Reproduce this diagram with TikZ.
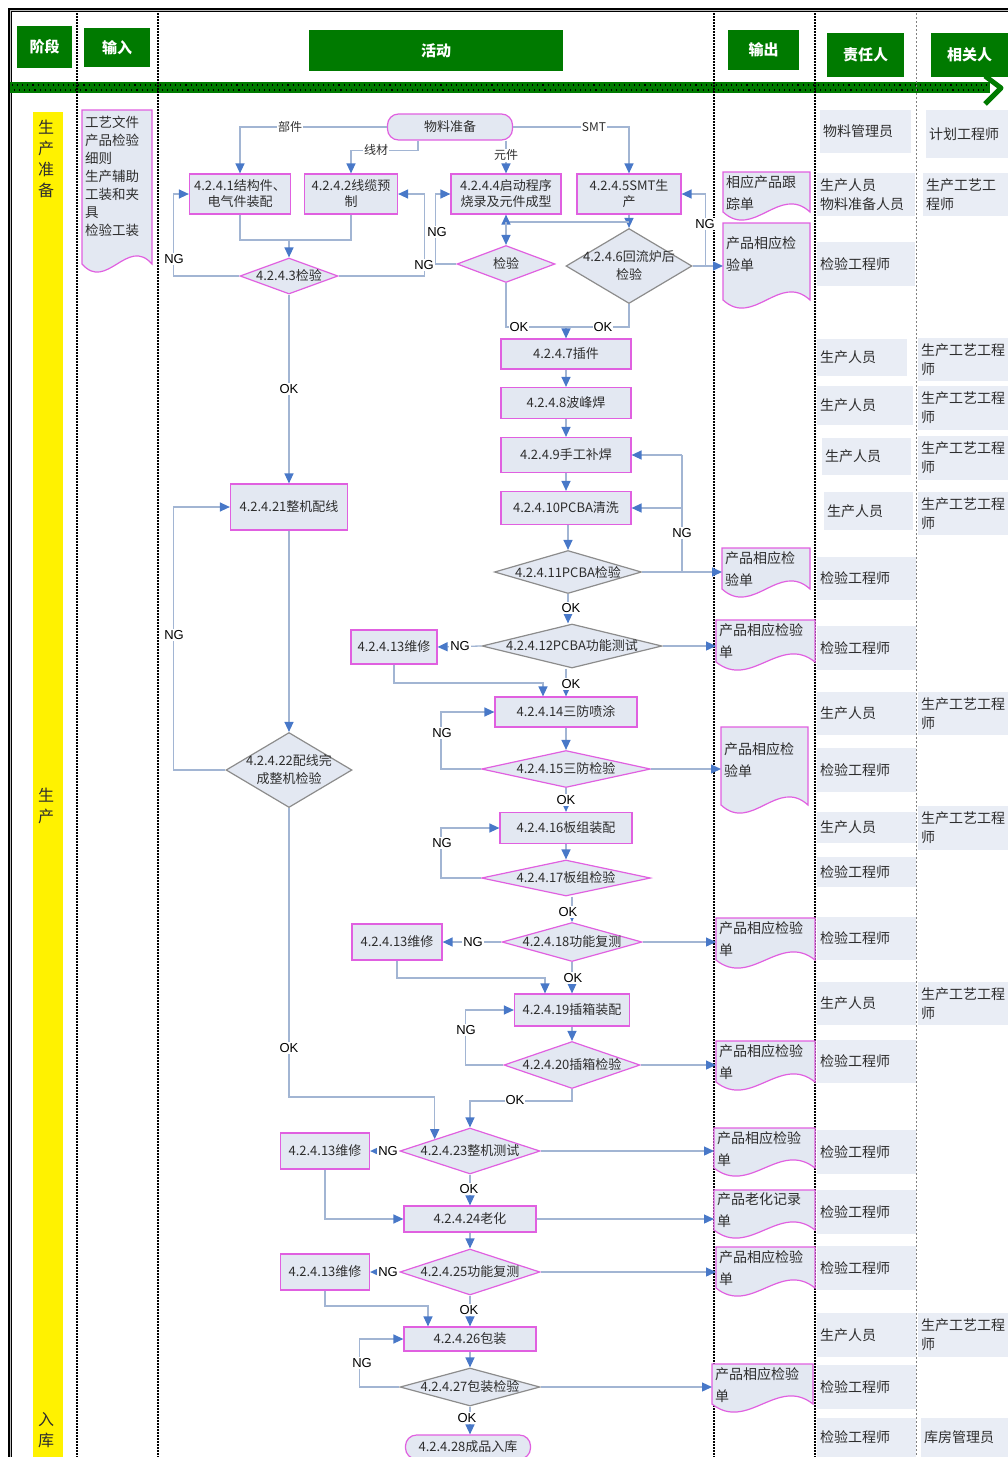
\documentclass[tikz,border=0pt]{standalone}
\usepackage{fontspec}
\setmainfont{Noto Sans CJK SC}
\newfontfamily\labfont{Liberation Sans}
\usetikzlibrary{shapes.geometric,arrows.meta,calc}
\definecolor{nfill}{HTML}{E3E8F2}
\definecolor{rfill}{HTML}{E9EDF5}
\definecolor{mag}{HTML}{E060E0}
\definecolor{gborder}{HTML}{8C8C8C}
\definecolor{lncol}{HTML}{A2B5D3}
\definecolor{tipcol}{HTML}{4878C8}
\definecolor{hgreen}{HTML}{007A00}
\definecolor{txt}{HTML}{2E2E2E}
\tikzset{
 ln/.style={draw=lncol, line width=1.3pt},
 arr/.style={ln, -{Triangle[length=10pt,width=9pt,color=tipcol]}},
 proc/.style={rectangle, draw=mag, fill=nfill, line width=1.2pt, align=center, inner sep=1pt, font=\fontsize{13pt}{16pt}\selectfont, text=txt},
 term/.style={proc, rounded corners=11pt},
 decm/.style={diamond, draw=mag, fill=nfill, line width=1.2pt, inner sep=0pt},
 decg/.style={diamond, draw=gborder, fill=nfill, line width=1.2pt, inner sep=0pt},
 dtext/.style={align=center, inner sep=0pt, font=\fontsize{13pt}{18pt}\selectfont, text=txt},
 lbl/.style={fill=white, inner sep=1pt, font=\labfont\fontsize{13pt}{15pt}\selectfont, text=black},
 blbl/.style={fill=white, inner sep=1pt, font=\fontsize{12pt}{14pt}\selectfont, text=txt},
 divider/.style={line width=2.2pt, dash pattern=on 2pt off 1pt, black},
 hdr/.style={fill=hgreen, text=white, font=\bfseries\fontsize{15pt}{18pt}\selectfont, inner sep=0pt},
 dtxt/.style={anchor=north west, align=left, inner sep=3pt, font=\fontsize{14pt}{22pt}\selectfont, text=txt},
 intxt/.style={font=\fontsize{13.5pt}{18pt}\selectfont},
 rtxt/.style={align=left, inner sep=3pt, font=\fontsize{14pt}{19pt}\selectfont, text=txt},
 ytxt/.style={align=center, inner sep=0pt, font=\fontsize{16pt}{21pt}\selectfont, text=txt},
}
% document shape: [style] name x1 y1 x2 y2 pad text
\newcommand\docbox[8][]{%
 \path[draw=mag, fill=nfill, line width=1.2pt] (#3,#4) -- (#5,#4) -- (#5,{#6-8})
   .. controls ({#5-0.35*(#5-#3)},{#6-36}) and ({#3+0.35*(#5-#3)},{#6+20}) .. (#3,{#6-8}) -- cycle;
 \node[dtxt,#1] (#2) at (#3,{#4+#7}) {#8};
}
% responsible box: name x1 y1 x2 y2 text
\newcommand\respbox[6]{%
 \fill[rfill] (#2,#3) rectangle (#4,#5);
 \node[rtxt, anchor=west] (#1) at (#2,{(#3+#5)/2}) {#6};
}
\begin{document}
\begin{tikzpicture}[x=1pt,y=-1pt]
\useasboundingbox (0,0) rectangle (1008,1457);
% frame
\draw[line width=1.2pt, double=gray!50, double distance=0.8pt] (10,1457) -- (10,10) -- (1008,10);
% green band
\fill[hgreen] (10,82) rectangle (990,93);
\draw[black, line width=1.1pt, dash pattern=on 1.1pt off 4pt] (12,85) -- (988,85);
\draw[black, line width=1.1pt, dash pattern=on 1.1pt off 4pt] (14,90) -- (988,90);
\draw[hgreen, line width=5pt, line join=round] (985,76) -- (1001,88) -- (985,104);
% dividers
\draw[divider] (77,13) -- (77,1457);
\draw[divider] (158,13) -- (158,1457);
\draw[divider] (714,13) -- (714,1457);
\draw[divider] (815,13) -- (815,1457);
\draw[gray, line width=0.8pt, dash pattern=on 2pt off 2pt] (916,13) -- (916,1457);
% headers
\node[hdr, minimum width=55pt, minimum height=42pt] (h1) at (44.5,47) {阶段};
\node[hdr, minimum width=66pt, minimum height=39pt] (h2) at (117,47.5) {输入};
\node[hdr, minimum width=254pt, minimum height=41pt] (h3) at (436,50.5) {活动};
\node[hdr, minimum width=71pt, minimum height=40pt] (h4) at (763.5,50) {输出};
\node[hdr, minimum width=77pt, minimum height=44pt] (h5) at (865.5,55) {责任人};
\node[hdr, minimum width=77pt, minimum height=44pt] (h6) at (969.5,55) {相关人};
% stage stripe
\fill[yellow] (33,112) rectangle (63,1457);
\node[ytxt] (s1) at (46,159) {生\\产\\准\\备};
\node[ytxt] (s2) at (46,806) {生\\产};
\node[ytxt] (s3) at (46,1430) {入\\库};
% input
\docbox[intxt]{in1}{82}{110}{152}{272}{3}{工艺文件\\产品检验\\细则\\生产辅助\\工装和夹\\具\\检验工装}
% responsible
\respbox{r1}{820}{110}{911}{153}{物料管理员}
\respbox{r2}{817}{173}{915}{216}{生产人员\\物料准备人员}
\respbox{r3}{817}{242}{915}{286}{检验工程师}
\respbox{r4}{817}{339}{907}{376}{生产人员}
\respbox{r5}{817}{386}{913}{425}{生产人员}
\respbox{r6}{822}{438}{911}{475}{生产人员}
\respbox{r7}{824}{492}{913}{530}{生产人员}
\respbox{r8}{817}{557}{916}{600}{检验工程师}
\respbox{r9}{817}{626}{916}{670}{检验工程师}
\respbox{r10}{817}{692}{916}{735}{生产人员}
\respbox{r11}{817}{748}{916}{792}{检验工程师}
\respbox{r12}{817}{812}{916}{843}{生产人员}
\respbox{r13}{817}{857}{916}{887}{检验工程师}
\respbox{r14}{817}{917}{916}{960}{检验工程师}
\respbox{r15}{817}{982}{916}{1025}{生产人员}
\respbox{r16}{817}{1040}{916}{1083}{检验工程师}
\respbox{r17}{817}{1130}{916}{1174}{检验工程师}
\respbox{r18}{817}{1190}{916}{1234}{检验工程师}
\respbox{r19}{817}{1246}{916}{1290}{检验工程师}
\respbox{r20}{817}{1313}{916}{1357}{生产人员}
\respbox{r21}{817}{1365}{916}{1409}{检验工程师}
\respbox{r22}{817}{1418}{916}{1457}{检验工程师}
% related
\respbox{g1}{926}{110}{1008}{158}{计划工程师}
\respbox{g2}{923}{173}{1008}{216}{生产工艺工\\程师}
\respbox{g3}{918}{338}{1008}{381}{生产工艺工程\\师}
\respbox{g4}{918}{386}{1008}{430}{生产工艺工程\\师}
\respbox{g5}{918}{436}{1008}{480}{生产工艺工程\\师}
\respbox{g6}{918}{492}{1008}{535}{生产工艺工程\\师}
\respbox{g7}{918}{692}{1008}{735}{生产工艺工程\\师}
\respbox{g8}{918}{806}{1008}{850}{生产工艺工程\\师}
\respbox{g9}{918}{982}{1008}{1025}{生产工艺工程\\师}
\respbox{g10}{918}{1313}{1008}{1357}{生产工艺工程\\师}
\respbox{g11}{921}{1418}{1008}{1457}{库房管理员}
% outputs
\docbox{o1}{723}{172}{810}{220}{0}{相应产品跟\\踪单}
\docbox{o2}{723}{223}{810}{308}{10}{产品相应检\\验单}
\docbox{o3}{722}{548}{810}{597}{0}{产品相应检\\验单}
\docbox{o4}{716}{620}{815}{670}{0}{产品相应检验\\单}
\docbox{o5}{721}{727}{808}{813}{12}{产品相应检\\验单}
\docbox{o6}{716}{918}{815}{968}{0}{产品相应检验\\单}
\docbox{o7}{716}{1041}{815}{1090}{0}{产品相应检验\\单}
\docbox{o8}{714}{1128}{815}{1176}{0}{产品相应检验\\单}
\docbox{o9}{714}{1190}{815}{1238}{0}{产品老化记录\\单}
\docbox{o10}{716}{1247}{815}{1296}{0}{产品相应检验\\单}
\docbox{o11}{712}{1364}{813}{1412}{0}{产品相应检验\\单}
% activity nodes
\node[term, minimum width=125pt, minimum height=26pt] (start) at (450,127) {物料准备};
\node[proc, minimum width=101pt, minimum height=40pt] (n41) at (240,194) {4.2.4.1结构件、\\电气件装配};
\node[proc, minimum width=93pt, minimum height=40pt] (n42) at (351,194) {4.2.4.2线缆预\\制};
\node[proc, minimum width=110pt, minimum height=40pt] (n44) at (506,194) {4.2.4.4启动程序\\烧录及元件成型};
\node[proc, minimum width=104pt, minimum height=40pt] (n45) at (629,194) {4.2.4.5SMT生\\产};
\node[decm, minimum width=98pt, minimum height=36pt, label={[dtext]center:4.2.4.3检验}] (n43) at (289,276) {};
\node[decm, minimum width=98pt, minimum height=37pt, label={[dtext]center:检验}] (nj) at (506,264) {};
\node[decg, minimum width=126pt, minimum height=75pt, label={[dtext]center:4.2.4.6回流炉后\\检验}] (n46) at (629,266) {};
\node[proc, minimum width=130pt, minimum height=30pt] (n47) at (566,354) {4.2.4.7插件};
\node[proc, minimum width=130pt, minimum height=31pt] (n48) at (566,403) {4.2.4.8波峰焊};
\node[proc, minimum width=130pt, minimum height=35pt] (n49) at (566,455) {4.2.4.9手工补焊};
\node[proc, minimum width=130pt, minimum height=33pt] (n410) at (566,508) {4.2.4.10PCBA清洗};
\node[decg, minimum width=147pt, minimum height=43pt, label={[dtext]center:4.2.4.11PCBA检验}] (n411) at (568,572) {};
\node[decg, minimum width=180pt, minimum height=44pt, label={[dtext]center:4.2.4.12PCBA功能测试}] (n412) at (572,646) {};
\node[proc, minimum width=86pt, minimum height=34pt] (n413a) at (394,647) {4.2.4.13维修};
\node[proc, minimum width=142pt, minimum height=30pt] (n414) at (566,712) {4.2.4.14三防喷涂};
\node[decm, minimum width=169pt, minimum height=37pt, label={[dtext]center:4.2.4.15三防检验}] (n415) at (566,769) {};
\node[proc, minimum width=132pt, minimum height=31pt] (n416) at (566,828) {4.2.4.16板组装配};
\node[decm, minimum width=169pt, minimum height=36pt, label={[dtext]center:4.2.4.17板组检验}] (n417) at (566,878) {};
\node[decm, minimum width=140pt, minimum height=39pt, label={[dtext]center:4.2.4.18功能复测}] (n418) at (572,942) {};
\node[proc, minimum width=90pt, minimum height=36pt] (n413b) at (397,942) {4.2.4.13维修};
\node[proc, minimum width=115pt, minimum height=32pt] (n419) at (572,1010) {4.2.4.19插箱装配};
\node[decm, minimum width=136pt, minimum height=47pt, label={[dtext]center:4.2.4.20插箱检验}] (n420) at (572,1065) {};
\node[proc, minimum width=117pt, minimum height=46pt] (n421) at (289,507) {4.2.4.21整机配线};
\node[decg, minimum width=126pt, minimum height=75pt, label={[dtext]center:4.2.4.22配线完\\成整机检验}] (n422) at (289,770) {};
\node[decm, minimum width=140pt, minimum height=46pt, label={[dtext]center:4.2.4.23整机测试}] (n423) at (470,1151) {};
\node[proc, minimum width=89pt, minimum height=36pt] (n413c) at (325,1151) {4.2.4.13维修};
\node[proc, minimum width=132pt, minimum height=26pt] (n424) at (470,1219) {4.2.4.24老化};
\node[decm, minimum width=140pt, minimum height=46pt, label={[dtext]center:4.2.4.25功能复测}] (n425) at (470,1272) {};
\node[proc, minimum width=89pt, minimum height=36pt] (n413d) at (325,1272) {4.2.4.13维修};
\node[proc, minimum width=132pt, minimum height=24pt] (n426) at (470,1339) {4.2.4.26包装};
\node[decg, minimum width=140pt, minimum height=38pt, label={[dtext]center:4.2.4.27包装检验}] (n427) at (470,1387) {};
\node[term, minimum width=125pt, minimum height=24pt] (n428) at (468,1447) {4.2.4.28成品入库};
% helper coordinates
\coordinate (m1) at (289,240);
\coordinate (m2) at (629,222);
\coordinate (m3) at (566,327);
\coordinate (v411) at (682,455);
\coordinate (k1) at (543,683);
\coordinate (k2) at (545,978);
\coordinate (k3) at (428,1306);
\coordinate (j422) at (289,1097);
% connectors: top
\draw[arr] (start.west) -| (n41.north);
\draw[arr] ([xshift=-32pt]start.south) -- ++(0,10) -| (n42.north);
\draw[arr] ([xshift=56pt]start.south) -- ([xshift=56pt]start.south |- n44.north);
\draw[arr] (start.east) -| (n45.north);
\draw[ln] (n41.south) |- (m1) -| (n42.south);
\draw[arr] (m1) -- (n43.north);
\draw[arr] (n43.west) -- ++(-66,0) |- (n41.west);
\draw[arr] (n43.east) -- ++(86,0) |- (n42.east);
\draw[arr] (nj.west) -- ++(-21,0) |- (n44.west);
\draw[arr] (n45.south) -- (n46.north);
\draw[ln] (m2) -- (m2 -| nj.north);
\draw[arr] (m2 -| nj.north) -- (n44.south);
\draw[arr] (m2 -| nj.north) -- (nj.north);
\draw[arr] (n46.east) -- (n46.east -| o2.west);
\draw[arr] (n46.east) -- ++(13,0) |- (n45.east);
\draw[ln] (nj.south) |- (m3);
\draw[ln] (n46.south) |- (m3);
\draw[arr] (m3) -- (n47.north);
\draw[arr] (n43.south) -- (n421.north);
% PCB chain
\draw[arr] (n47.south) -- (n48.north);
\draw[arr] (n48.south) -- (n49.north);
\draw[arr] (n49.south) -- (n410.north);
\draw[arr] (n410.south -| n411.north) -- (n411.north);
\draw[arr] (n411.east) -- (n411.east -| o3.west);
\draw[ln] (v411 |- n411.east) -- (v411);
\draw[arr] (v411) -- (n49.east);
\draw[arr] (v411 |- n410.east) -- (n410.east);
\draw[arr] (n411.south) -- (n411.south |- n412.north);
\draw[arr] (n412.west) -- (n413a.east);
\draw[arr] (n412.east) -- (n412.east -| o4.west);
\draw[arr] (n413a.south) |- (k1) -- (k1 |- n414.north);
\draw[arr] (n412.south -| n414.north) -- (n414.north);
\draw[arr] (n414.south) -- (n415.north);
\draw[arr] (n415.west) -- ++(-40,0) |- (n414.west);
\draw[arr] (n415.east) -- (n415.east -| o5.west);
\draw[arr] (n415.south) -- (n416.north);
\draw[arr] (n416.south) -- (n417.north);
\draw[arr] (n417.west) -- ++(-40,0) |- (n416.west);
\draw[arr] (n417.south -| n418.north) -- (n418.north);
\draw[arr] (n418.west) -- (n413b.east);
\draw[arr] (n418.east) -- (n418.east -| o6.west);
\draw[arr] (n413b.south) |- (k2) -- (k2 |- n419.north);
\draw[arr] (n418.south) -- (n419.north);
\draw[arr] (n419.south) -- (n420.north);
\draw[arr] (n420.west) -- ++(-38,0) |- (n419.west);
\draw[arr] (n420.east) -- (n420.east -| o7.west);
\draw[arr] (n420.south) -- ++(0,12) -| (n423.north);
% wiring loop
\draw[arr] (n421.south) -- (n422.north);
\draw[arr] (n422.west) -- ++(-52,0) |- (n421.west);
\draw[arr] (n422.south) -- (j422) -- (j422 -| n423.north west) -- (n423.north west);
% final
\draw[arr] (n423.west) -- (n413c.east);
\draw[arr] (n423.east) -- (n423.east -| o8.west);
\draw[arr] (n423.south) -- (n424.north);
\draw[arr] (n413c.south) |- (n424.west);
\draw[arr] (n424.east) -- (n424.east -| o9.west);
\draw[arr] (n424.south) -- (n425.north);
\draw[arr] (n425.west) -- (n413d.east);
\draw[arr] (n425.east) -- (n425.east -| o10.west);
\draw[arr] (n413d.south) |- (k3) -- (k3 |- n426.north);
\draw[arr] (n425.south) -- (n426.north);
\draw[arr] (n426.south) -- (n427.north);
\draw[arr] (n427.west) -- ++(-40,0) |- (n426.west);
\draw[arr] (n427.east) -- (n427.east -| o11.west);
\draw[arr] (n427.south) -- (n427.south |- n428.north);
% labels
\node[blbl] (b1) at (290,127) {部件};
\node[blbl] (b2) at (376,150) {线材};
\node[blbl] (b3) at (506,155) {元件};
\node[blbl] (b4) at (594,127) {SMT};
\node[lbl] (a1) at (174,259) {NG};
\node[lbl] (a2) at (424,265) {NG};
\node[lbl] (a3) at (437,232) {NG};
\node[lbl] (a4) at (705,224) {NG};
\node[lbl] (a5) at (519,327) {OK};
\node[lbl] (a6) at (603,327) {OK};
\node[lbl] (a7) at (289,389) {OK};
\node[lbl] (a8) at (682,533) {NG};
\node[lbl] (a9) at (571,608) {OK};
\node[lbl] (a10) at (460,646) {NG};
\node[lbl] (a11) at (571,684) {OK};
\node[lbl] (a12) at (442,733) {NG};
\node[lbl] (a13) at (566,800) {OK};
\node[lbl] (a14) at (442,843) {NG};
\node[lbl] (a15) at (568,912) {OK};
\node[lbl] (a16) at (473,942) {NG};
\node[lbl] (a17) at (573,978) {OK};
\node[lbl] (a18) at (466,1030) {NG};
\node[lbl] (a19) at (515,1100) {OK};
\node[lbl] (a20) at (174,635) {NG};
\node[lbl] (a21) at (289,1048) {OK};
\node[lbl] (a22) at (388,1151) {NG};
\node[lbl] (a23) at (469,1189) {OK};
\node[lbl] (a24) at (388,1272) {NG};
\node[lbl] (a25) at (469,1310) {OK};
\node[lbl] (a26) at (362,1363) {NG};
\node[lbl] (a27) at (467,1418) {OK};
\end{tikzpicture}
\end{document}
